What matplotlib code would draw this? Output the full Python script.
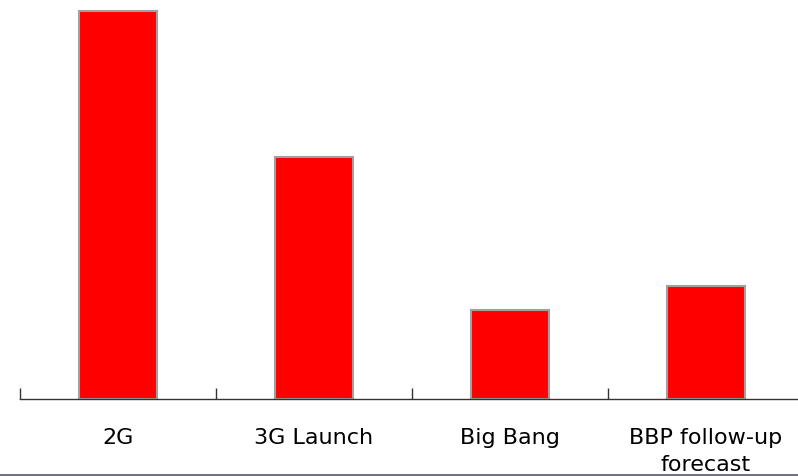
import matplotlib

matplotlib.use("Agg")
import matplotlib.pyplot as plt
from matplotlib.lines import Line2D

categories = ["2G", "3G Launch", "Big Bang", "BBP follow-up\nforecast"]
values = [388, 242, 89, 113]

W, H = 798, 477
fig = plt.figure(figsize=(W / 100, H / 100), dpi=100)
# axes: left edge at x=20 px, baseline at y=400 px, top at y=0
ax = fig.add_axes([20 / W, (H - 400) / H, 784 / W, 400 / H])

x = range(len(categories))
ax.bar(x, values, width=0.4, color="#ff0000", edgecolor="#a0a0a0", linewidth=1.5)

ax.set_xlim(-0.5, len(categories) - 0.5)
ax.set_ylim(0, 400)

for side in ("top", "right", "left"):
    ax.spines[side].set_visible(False)
ax.spines["bottom"].set_color("#333333")
ax.spines["bottom"].set_linewidth(1.0)
ax.set_yticks([])

ax.set_xticks(list(x))
ax.set_xticklabels(categories, fontsize=16, linespacing=1.48)
ax.tick_params(axis="x", which="major", length=0, pad=20)
ax.set_xticks([i - 0.5 for i in x], minor=True)
ax.tick_params(axis="x", which="minor", length=8, direction="in", color="#333333", width=1.0)

fig.add_artist(Line2D([0, 1], [1 - 476 / H, 1 - 476 / H], transform=fig.transFigure,
                      color="#555566", lw=1.2))

fig.savefig("out.png", dpi=100)
